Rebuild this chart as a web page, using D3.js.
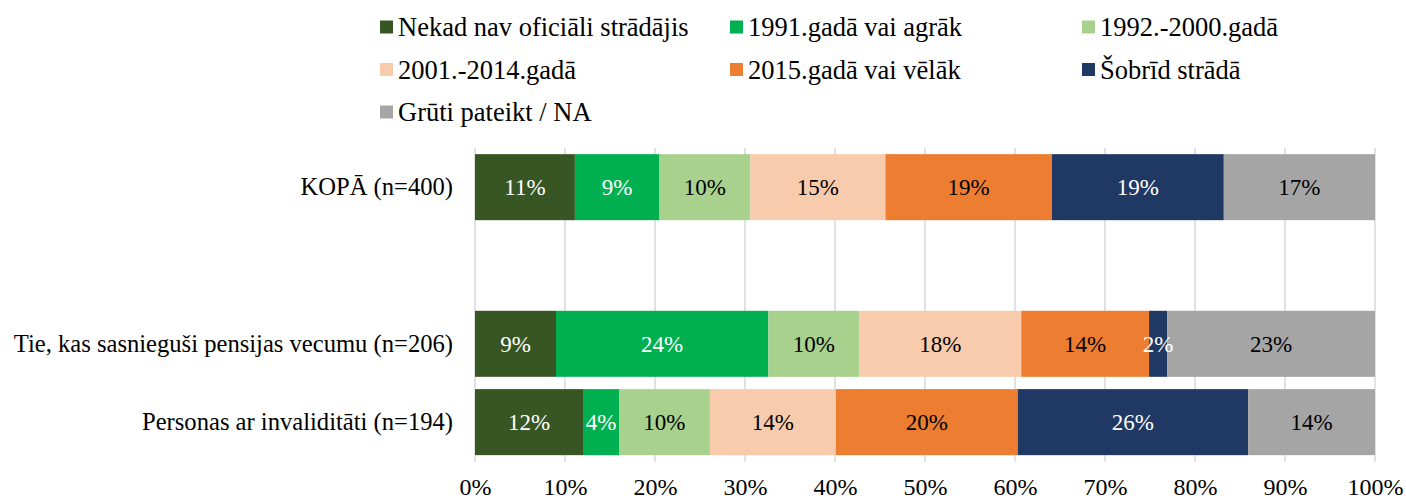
<!DOCTYPE html>
<html>
<head>
<meta charset="utf-8">
<script src="https://cdn.jsdelivr.net/npm/d3@7/dist/d3.min.js"></script>
<style>
  html, body { margin: 0; padding: 0; background: #ffffff; }
  svg { display: block; font-family: "Liberation Serif", "Times New Roman", serif; }
</style>
</head>
<body>
<svg id="chart" width="1406" height="500"></svg>
<script>
// Work start periods by group (share of respondents, %)
const categories = ["KOPĀ (n=400)", " ", "Tie, kas sasnieguši pensijas vecumu (n=206)", "Personas ar invaliditāti (n=194)"];
const seriesNames = ["Nekad nav oficiāli strādājis", "1991.gadā vai agrāk", "1992.-2000.gadā",
                     "2001.-2014.gadā", "2015.gadā vai vēlāk", "Šobrīd strādā", "Grūti pateikt / NA"];
const kopaValues = [11.1, 9.4, 10.1, 15.0, 18.5, 19.1, 16.8];
const pensijaValues = [9.0, 23.6, 10.1, 18.0, 14.2, 2.0, 23.1];
const invaliditateValues = [12.0, 4.0, 10.1, 14.0, 20.2, 25.6, 14.1];
const xTicks = [0, 10, 20, 30, 40, 50, 60, 70, 80, 90, 100];

const seriesColors = ["#375623", "#00b050", "#a9d18e", "#f8cbad", "#ed7d31", "#203864", "#a5a5a5"];
const labelColors = ["#ffffff", "#ffffff", "#000000", "#000000", "#000000", "#ffffff", "#000000"];

const rows = [
  { cat: categories[0], values: kopaValues },
  { cat: categories[2], values: pensijaValues },
  { cat: categories[3], values: invaliditateValues }
];

const svg = d3.select("#chart");

const x = d3.scaleLinear().domain([0, 100]).range([475, 1375]);
const y = d3.scaleBand().domain(categories).range([148, 461.3]).paddingInner(0.157).paddingOuter(0.0785);

// vertical gridlines
svg.append("g")
  .selectAll("line")
  .data(xTicks)
  .join("line")
  .attr("x1", d => x(d)).attr("x2", d => x(d))
  .attr("y1", 148).attr("y2", 462)
  .attr("stroke", "#d9d9d9")
  .attr("stroke-width", 1.5);

// stacked segments
const segs = [];
rows.forEach(r => {
  let acc = 0;
  r.values.forEach((v, i) => {
    segs.push({ cat: r.cat, i, v, x0: acc, x1: acc + v });
    acc += v;
  });
});

svg.append("g")
  .selectAll("rect")
  .data(segs)
  .join("rect")
  .attr("x", d => x(d.x0))
  .attr("width", d => x(d.x1) - x(d.x0))
  .attr("y", d => y(d.cat))
  .attr("height", y.bandwidth())
  .attr("fill", d => seriesColors[d.i]);

svg.append("g")
  .selectAll("text")
  .data(segs)
  .join("text")
  .attr("x", d => x((d.x0 + d.x1) / 2))
  .attr("y", d => y(d.cat) + y.bandwidth() / 2)
  .attr("dy", "0.35em")
  .attr("text-anchor", "middle")
  .attr("font-size", 23)
  .attr("fill", d => labelColors[d.i])
  .text(d => Math.round(d.v) + "%");

// category axis
const yAxis = d3.axisLeft(y).tickSize(0).tickPadding(22);
const gy = svg.append("g").attr("transform", `translate(${x(0)},0)`).call(yAxis);
gy.select(".domain").remove();
gy.selectAll("text")
  .attr("font-family", "Liberation Serif, Times New Roman, serif")
  .attr("font-size", 24.6)
  .attr("fill", "#000");

// percentage axis
const xAxis = d3.axisBottom(x).tickValues(xTicks).tickSize(0).tickPadding(0).tickFormat(d => d + "%");
const gx = svg.append("g").attr("transform", "translate(0,487)").call(xAxis);
gx.select(".domain").remove();
gx.selectAll("text")
  .attr("font-family", "Liberation Serif, Times New Roman, serif")
  .attr("font-size", 24)
  .attr("fill", "#000")
  .attr("y", 0)
  .attr("dy", "0.35em");

// legend
const legendCols = [380, 730, 1082];
const legendRows = [27, 69.5, 112];
const legend = svg.append("g")
  .selectAll("g")
  .data(seriesNames)
  .join("g")
  .attr("transform", (d, i) => `translate(${legendCols[i % 3]},${legendRows[Math.floor(i / 3)]})`);
legend.append("rect")
  .attr("x", 0).attr("y", -6.5).attr("width", 13).attr("height", 13)
  .attr("fill", (d, i) => seriesColors[i]);
legend.append("text")
  .attr("x", 18).attr("y", 0).attr("dy", "0.35em")
  .attr("font-size", 26.5)
  .attr("fill", "#000")
  .text(d => d);
</script>
</body>
</html>
